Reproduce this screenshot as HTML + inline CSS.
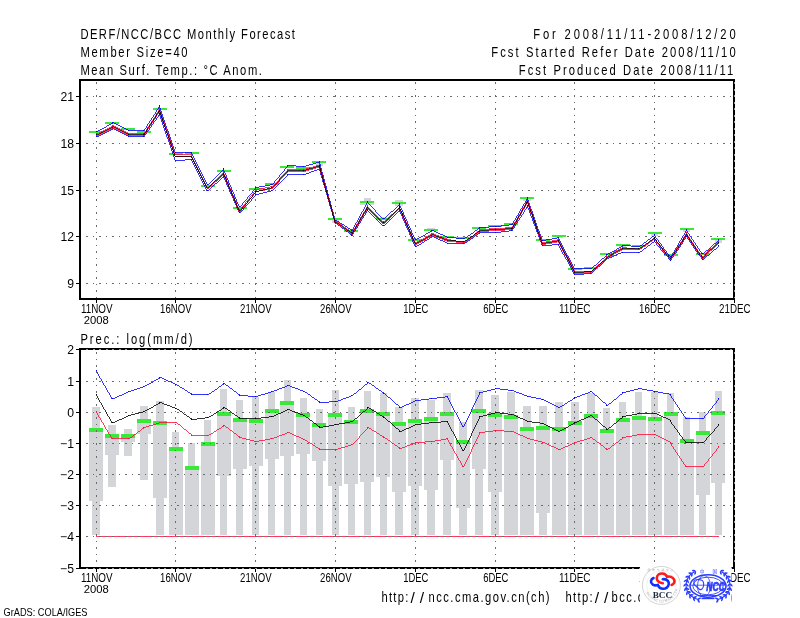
<!DOCTYPE html>
<html><head><meta charset="utf-8"><title>DERF/NCC/BCC Monthly Forecast</title>
<style>html,body{margin:0;padding:0;background:#fff;}body{width:800px;height:618px;overflow:hidden;}svg{display:block;}</style>
</head><body>
<svg width="800" height="618" viewBox="0 0 800 618">
<rect x="0" y="0" width="800" height="618" fill="#ffffff"/>
<g font-family="'Liberation Sans', 'DejaVu Sans', sans-serif" fill="#000">
<text transform="translate(80.40,38.60) scale(0.8,1)" x="0" y="0" font-size="14" text-anchor="start" textLength="268.1" lengthAdjust="spacing">DERF/NCC/BCC Monthly Forecast</text>
<text transform="translate(80.40,56.60) scale(0.8,1)" x="0" y="0" font-size="14" text-anchor="start" textLength="134.0" lengthAdjust="spacing">Member Size=40</text>
<text transform="translate(80.40,74.60) scale(0.8,1)" x="0" y="0" font-size="14" text-anchor="start" textLength="226.9" lengthAdjust="spacing">Mean Surf. Temp.: &#176;C Anom.</text>
<text transform="translate(533.30,38.60) scale(0.8,1)" x="0" y="0" font-size="14" text-anchor="start" textLength="252.9" lengthAdjust="spacing">For 2008/11/11-2008/12/20</text>
<text transform="translate(491.30,56.80) scale(0.8,1)" x="0" y="0" font-size="14" text-anchor="start" textLength="305.4" lengthAdjust="spacing">Fcst Started Refer Date 2008/11/10</text>
<text transform="translate(518.80,74.80) scale(0.8,1)" x="0" y="0" font-size="14" text-anchor="start" textLength="268.1" lengthAdjust="spacing">Fcst Produced Date 2008/11/11</text>
</g>
<g shape-rendering="crispEdges">
<line x1="86" y1="96.5" x2="733" y2="96.5" stroke="#6a6a6a" stroke-width="1" stroke-dasharray="2 4.5 1 5.5"/>
<line x1="86" y1="143.5" x2="733" y2="143.5" stroke="#6a6a6a" stroke-width="1" stroke-dasharray="2 4.5 1 5.5"/>
<line x1="86" y1="190.5" x2="733" y2="190.5" stroke="#6a6a6a" stroke-width="1" stroke-dasharray="2 4.5 1 5.5"/>
<line x1="86" y1="236.5" x2="733" y2="236.5" stroke="#6a6a6a" stroke-width="1" stroke-dasharray="2 4.5 1 5.5"/>
<line x1="86" y1="283.5" x2="733" y2="283.5" stroke="#6a6a6a" stroke-width="1" stroke-dasharray="2 4.5 1 5.5"/>
<line x1="96.5" y1="82" x2="96.5" y2="298" stroke="#6a6a6a" stroke-width="1" stroke-dasharray="2 4.5 1 5.5"/>
<line x1="175.5" y1="82" x2="175.5" y2="298" stroke="#6a6a6a" stroke-width="1" stroke-dasharray="2 4.5 1 5.5"/>
<line x1="255.5" y1="82" x2="255.5" y2="298" stroke="#6a6a6a" stroke-width="1" stroke-dasharray="2 4.5 1 5.5"/>
<line x1="335.5" y1="82" x2="335.5" y2="298" stroke="#6a6a6a" stroke-width="1" stroke-dasharray="2 4.5 1 5.5"/>
<line x1="415.5" y1="82" x2="415.5" y2="298" stroke="#6a6a6a" stroke-width="1" stroke-dasharray="2 4.5 1 5.5"/>
<line x1="495.5" y1="82" x2="495.5" y2="298" stroke="#6a6a6a" stroke-width="1" stroke-dasharray="2 4.5 1 5.5"/>
<line x1="574.5" y1="82" x2="574.5" y2="298" stroke="#6a6a6a" stroke-width="1" stroke-dasharray="2 4.5 1 5.5"/>
<line x1="654.5" y1="82" x2="654.5" y2="298" stroke="#6a6a6a" stroke-width="1" stroke-dasharray="2 4.5 1 5.5"/>
<rect x="316.00" y="162.00" width="7.00" height="4.00" fill="#d4d5d9"/>
<rect x="332.00" y="219.00" width="7.00" height="4.00" fill="#d4d5d9"/>
<rect x="364.00" y="198.00" width="7.00" height="4.00" fill="#d4d5d9"/>
<rect x="380.00" y="217.00" width="7.00" height="3.00" fill="#d4d5d9"/>
<rect x="395.00" y="200.00" width="8.00" height="6.00" fill="#d4d5d9"/>
<rect x="427.00" y="228.00" width="8.00" height="3.00" fill="#d4d5d9"/>
<rect x="523.00" y="197.00" width="8.00" height="4.00" fill="#d4d5d9"/>
<rect x="555.00" y="235.00" width="8.00" height="3.00" fill="#d4d5d9"/>
<rect x="715.00" y="240.00" width="7.00" height="3.00" fill="#d4d5d9"/>
<rect x="651.00" y="232.00" width="7.00" height="4.00" fill="#d4d5d9"/>
<rect x="683.00" y="229.00" width="7.00" height="3.00" fill="#d4d5d9"/>
<rect x="475.00" y="227.00" width="8.00" height="2.00" fill="#d4d5d9"/>
<rect x="619.00" y="244.00" width="7.00" height="3.00" fill="#d4d5d9"/>
<rect x="360.00" y="203.00" width="14.00" height="2.00" fill="#d4d5d9"/>
<rect x="89.00" y="131.00" width="14.00" height="2.00" fill="#3ae83a"/>
<rect x="105.00" y="122.00" width="14.00" height="2.00" fill="#3ae83a"/>
<rect x="121.00" y="128.00" width="14.00" height="2.00" fill="#3ae83a"/>
<rect x="137.00" y="131.00" width="14.00" height="2.00" fill="#3ae83a"/>
<rect x="153.00" y="108.00" width="14.00" height="2.00" fill="#3ae83a"/>
<rect x="169.00" y="153.00" width="14.00" height="2.00" fill="#3ae83a"/>
<rect x="185.00" y="152.00" width="14.00" height="2.00" fill="#3ae83a"/>
<rect x="201.00" y="185.00" width="14.00" height="2.00" fill="#3ae83a"/>
<rect x="217.00" y="170.00" width="14.00" height="2.00" fill="#3ae83a"/>
<rect x="233.00" y="207.00" width="14.00" height="2.00" fill="#3ae83a"/>
<rect x="249.00" y="188.00" width="14.00" height="2.00" fill="#3ae83a"/>
<rect x="265.00" y="183.00" width="14.00" height="2.00" fill="#3ae83a"/>
<rect x="280.00" y="166.00" width="14.00" height="2.00" fill="#3ae83a"/>
<rect x="296.00" y="167.00" width="14.00" height="2.00" fill="#3ae83a"/>
<rect x="312.00" y="161.00" width="14.00" height="2.00" fill="#3ae83a"/>
<rect x="328.00" y="218.00" width="14.00" height="2.00" fill="#3ae83a"/>
<rect x="344.00" y="230.00" width="14.00" height="2.00" fill="#3ae83a"/>
<rect x="360.00" y="201.00" width="14.00" height="2.00" fill="#3ae83a"/>
<rect x="376.00" y="218.00" width="14.00" height="2.00" fill="#3ae83a"/>
<rect x="392.00" y="202.00" width="14.00" height="2.00" fill="#3ae83a"/>
<rect x="408.00" y="239.00" width="14.00" height="2.00" fill="#3ae83a"/>
<rect x="424.00" y="229.00" width="14.00" height="2.00" fill="#3ae83a"/>
<rect x="440.00" y="236.00" width="14.00" height="2.00" fill="#3ae83a"/>
<rect x="456.00" y="237.00" width="14.00" height="2.00" fill="#3ae83a"/>
<rect x="472.00" y="227.00" width="14.00" height="2.00" fill="#3ae83a"/>
<rect x="488.00" y="225.00" width="14.00" height="2.00" fill="#3ae83a"/>
<rect x="504.00" y="223.00" width="14.00" height="2.00" fill="#3ae83a"/>
<rect x="520.00" y="197.00" width="14.00" height="2.00" fill="#3ae83a"/>
<rect x="536.00" y="239.00" width="14.00" height="2.00" fill="#3ae83a"/>
<rect x="552.00" y="235.00" width="14.00" height="2.00" fill="#3ae83a"/>
<rect x="568.00" y="268.00" width="14.00" height="2.00" fill="#3ae83a"/>
<rect x="584.00" y="267.00" width="14.00" height="2.00" fill="#3ae83a"/>
<rect x="600.00" y="253.00" width="14.00" height="2.00" fill="#3ae83a"/>
<rect x="616.00" y="244.00" width="14.00" height="2.00" fill="#3ae83a"/>
<rect x="632.00" y="245.00" width="14.00" height="2.00" fill="#3ae83a"/>
<rect x="648.00" y="232.00" width="14.00" height="2.00" fill="#3ae83a"/>
<rect x="664.00" y="254.00" width="14.00" height="2.00" fill="#3ae83a"/>
<rect x="680.00" y="228.00" width="14.00" height="2.00" fill="#3ae83a"/>
<rect x="696.00" y="253.00" width="14.00" height="2.00" fill="#3ae83a"/>
<rect x="711.00" y="238.00" width="14.00" height="2.00" fill="#3ae83a"/>
<path d="M96,131h1v1h-1zM112,122h1v1h-1zM128,130h1v1h-1zM143,130h1v1h-1zM159,105h1v1h-1zM175,152h1v1h-1zM191,152h1v1h-1zM207,184h1v1h-1zM223,168h1v1h-1zM239,206h1v1h-1zM255,187h1v1h-1zM271,184h1v1h-1zM287,165h1v1h-1zM303,166h1v1h-1zM319,161h1v1h-1zM335,220h1v1h-1zM351,230h1v1h-1zM367,201h1v1h-1zM383,218h1v1h-1zM399,203h1v1h-1zM415,239h1v1h-1zM431,230h1v1h-1zM447,237h1v1h-1zM463,238h1v1h-1zM479,227h1v1h-1zM495,226h1v1h-1zM511,224h1v1h-1zM527,197h1v1h-1zM542,240h1v1h-1zM558,237h1v1h-1zM574,268h1v1h-1zM590,268h1v1h-1zM606,254h1v1h-1zM622,245h1v1h-1zM638,246h1v1h-1zM654,234h1v1h-1zM670,256h1v1h-1zM686,229h1v1h-1zM702,253h1v1h-1zM718,239h1v1h-1z" fill="#0000ff"/>
<path d="M96,136h1v1h-1zM112,128h1v1h-1zM128,136h1v1h-1zM143,136h1v1h-1zM159,113h1v1h-1zM175,160h1v1h-1zM191,159h1v1h-1zM207,190h1v1h-1zM223,175h1v1h-1zM239,212h1v1h-1zM255,194h1v1h-1zM271,190h1v1h-1zM287,174h1v1h-1zM303,174h1v1h-1zM319,168h1v1h-1zM335,223h1v1h-1zM351,235h1v1h-1zM367,209h1v1h-1zM383,225h1v1h-1zM399,209h1v1h-1zM415,246h1v1h-1zM431,236h1v1h-1zM447,243h1v1h-1zM463,243h1v1h-1zM479,232h1v1h-1zM495,232h1v1h-1zM511,230h1v1h-1zM527,205h1v1h-1zM542,245h1v1h-1zM558,244h1v1h-1zM574,274h1v1h-1zM590,273h1v1h-1zM606,258h1v1h-1zM622,252h1v1h-1zM638,252h1v1h-1zM654,240h1v1h-1zM670,260h1v1h-1zM686,235h1v1h-1zM702,259h1v1h-1zM718,245h1v1h-1z" fill="#0000ff"/>
<path d="M96,133h1v1h-1zM112,125h1v1h-1zM128,133h1v1h-1zM143,133h1v1h-1zM159,108h1v1h-1zM175,154h1v1h-1zM191,154h1v1h-1zM207,187h1v1h-1zM223,171h1v1h-1zM239,209h1v1h-1zM255,189h1v1h-1zM271,186h1v1h-1zM287,169h1v1h-1zM303,169h1v1h-1zM319,164h1v1h-1zM335,221h1v1h-1zM351,232h1v1h-1zM367,205h1v1h-1zM383,221h1v1h-1zM399,206h1v1h-1zM415,242h1v1h-1zM431,233h1v1h-1zM447,239h1v1h-1zM463,242h1v1h-1zM479,229h1v1h-1zM495,228h1v1h-1zM511,227h1v1h-1zM527,199h1v1h-1zM542,242h1v1h-1zM558,239h1v1h-1zM574,271h1v1h-1zM590,271h1v1h-1zM606,256h1v1h-1zM622,247h1v1h-1zM638,249h1v1h-1zM654,237h1v1h-1zM670,257h1v1h-1zM686,232h1v1h-1zM702,256h1v1h-1zM718,241h1v1h-1z" fill="#ff0a3a"/>
<path d="M96,135h1v1h-1zM112,127h1v1h-1zM128,135h1v1h-1zM143,135h1v1h-1zM159,110h1v1h-1zM175,156h1v1h-1zM191,156h1v1h-1zM207,188h1v1h-1zM223,173h1v1h-1zM239,211h1v1h-1zM255,191h1v1h-1zM271,188h1v1h-1zM287,171h1v1h-1zM303,171h1v1h-1zM319,166h1v1h-1zM335,223h1v1h-1zM351,234h1v1h-1zM367,207h1v1h-1zM383,223h1v1h-1zM399,207h1v1h-1zM415,244h1v1h-1zM431,235h1v1h-1zM447,241h1v1h-1zM463,242h1v1h-1zM479,231h1v1h-1zM495,230h1v1h-1zM511,229h1v1h-1zM527,201h1v1h-1zM542,244h1v1h-1zM558,241h1v1h-1zM574,273h1v1h-1zM590,272h1v1h-1zM606,258h1v1h-1zM622,249h1v1h-1zM638,249h1v1h-1zM654,238h1v1h-1zM670,259h1v1h-1zM686,234h1v1h-1zM702,258h1v1h-1zM718,243h1v1h-1z" fill="#ff0a3a"/>
<path d="M96,134h1v1h-1zM112,126h1v1h-1zM128,134h1v1h-1zM143,134h1v1h-1zM159,109h1v1h-1zM175,156h1v1h-1zM191,156h1v1h-1zM207,187h1v1h-1zM223,172h1v1h-1zM239,210h1v1h-1zM255,191h1v1h-1zM271,187h1v1h-1zM287,170h1v1h-1zM303,170h1v1h-1zM319,165h1v1h-1zM335,222h1v1h-1zM351,233h1v1h-1zM367,206h1v1h-1zM383,222h1v1h-1zM399,206h1v1h-1zM415,243h1v1h-1zM431,234h1v1h-1zM447,240h1v1h-1zM463,241h1v1h-1zM479,230h1v1h-1zM495,229h1v1h-1zM511,228h1v1h-1zM527,200h1v1h-1zM542,243h1v1h-1zM558,240h1v1h-1zM574,272h1v1h-1zM590,271h1v1h-1zM606,257h1v1h-1zM622,248h1v1h-1zM638,248h1v1h-1zM654,237h1v1h-1zM670,258h1v1h-1zM686,233h1v1h-1zM702,257h1v1h-1zM718,242h1v1h-1z" fill="#000"/>
<polyline points="96.50,131.5 112.50,122.5 128.50,130.5 143.50,130.5 159.50,105.5 175.50,152.5 191.50,152.5 207.50,184.5 223.50,168.5 239.50,206.5 255.50,187.5 271.50,184.5 287.50,165.5 303.50,166.5 319.50,161.5 335.50,220.5 351.50,230.5 367.50,201.5 383.50,218.5 399.50,203.5 415.50,239.5 431.50,230.5 447.50,237.5 463.50,238.5 479.50,227.5 495.50,226.5 511.50,224.5 527.50,197.5 542.50,240.5 558.50,237.5 574.50,268.5 590.50,268.5 606.50,254.5 622.50,245.5 638.50,246.5 654.50,234.5 670.50,256.5 686.50,229.5 702.50,253.5 718.50,239.5" fill="none" stroke="#0000ff" stroke-width="0.8"/>
<polyline points="96.50,136.5 112.50,128.5 128.50,136.5 143.50,136.5 159.50,113.5 175.50,160.5 191.50,159.5 207.50,190.5 223.50,175.5 239.50,212.5 255.50,194.5 271.50,190.5 287.50,174.5 303.50,174.5 319.50,168.5 335.50,223.5 351.50,235.5 367.50,209.5 383.50,225.5 399.50,209.5 415.50,246.5 431.50,236.5 447.50,243.5 463.50,243.5 479.50,232.5 495.50,232.5 511.50,230.5 527.50,205.5 542.50,245.5 558.50,244.5 574.50,274.5 590.50,273.5 606.50,258.5 622.50,252.5 638.50,252.5 654.50,240.5 670.50,260.5 686.50,235.5 702.50,259.5 718.50,245.5" fill="none" stroke="#0000ff" stroke-width="0.8"/>
<polyline points="96.50,133.5 112.50,125.5 128.50,133.5 143.50,133.5 159.50,108.5 175.50,154.5 191.50,154.5 207.50,187.5 223.50,171.5 239.50,209.5 255.50,189.5 271.50,186.5 287.50,169.5 303.50,169.5 319.50,164.5 335.50,221.5 351.50,232.5 367.50,205.5 383.50,221.5 399.50,206.5 415.50,242.5 431.50,233.5 447.50,239.5 463.50,242.5 479.50,229.5 495.50,228.5 511.50,227.5 527.50,199.5 542.50,242.5 558.50,239.5 574.50,271.5 590.50,271.5 606.50,256.5 622.50,247.5 638.50,249.5 654.50,237.5 670.50,257.5 686.50,232.5 702.50,256.5 718.50,241.5" fill="none" stroke="#ff0a3a" stroke-width="0.8"/>
<polyline points="96.50,135.5 112.50,127.5 128.50,135.5 143.50,135.5 159.50,110.5 175.50,156.5 191.50,156.5 207.50,188.5 223.50,173.5 239.50,211.5 255.50,191.5 271.50,188.5 287.50,171.5 303.50,171.5 319.50,166.5 335.50,223.5 351.50,234.5 367.50,207.5 383.50,223.5 399.50,207.5 415.50,244.5 431.50,235.5 447.50,241.5 463.50,242.5 479.50,231.5 495.50,230.5 511.50,229.5 527.50,201.5 542.50,244.5 558.50,241.5 574.50,273.5 590.50,272.5 606.50,258.5 622.50,249.5 638.50,249.5 654.50,238.5 670.50,259.5 686.50,234.5 702.50,258.5 718.50,243.5" fill="none" stroke="#ff0a3a" stroke-width="0.8"/>
<polyline points="96.50,134.5 112.50,126.5 128.50,134.5 143.50,134.5 159.50,109.5 175.50,156.5 191.50,156.5 207.50,187.5 223.50,172.5 239.50,210.5 255.50,191.5 271.50,187.5 287.50,170.5 303.50,170.5 319.50,165.5 335.50,222.5 351.50,233.5 367.50,206.5 383.50,222.5 399.50,206.5 415.50,243.5 431.50,234.5 447.50,240.5 463.50,241.5 479.50,230.5 495.50,229.5 511.50,228.5 527.50,200.5 542.50,243.5 558.50,240.5 574.50,272.5 590.50,271.5 606.50,257.5 622.50,248.5 638.50,248.5 654.50,237.5 670.50,258.5 686.50,233.5 702.50,257.5 718.50,242.5" fill="none" stroke="#000" stroke-width="0.8"/>
<rect x="79.00" y="79.00" width="656.00" height="2.00" fill="#000"/>
<rect x="79.00" y="79.00" width="2.00" height="221.00" fill="#000"/>
<rect x="733.00" y="79.00" width="2.00" height="221.00" fill="#000"/>
<rect x="79.00" y="298.00" width="656.00" height="2.00" fill="#000"/>
<line x1="734.5" y1="82" x2="734.5" y2="298" stroke="#9a9a9a" stroke-width="1" stroke-dasharray="2 4.5"/>
<rect x="76.00" y="96.00" width="3.00" height="1.00" fill="#000"/>
<rect x="76.00" y="143.00" width="3.00" height="1.00" fill="#000"/>
<rect x="76.00" y="190.00" width="3.00" height="1.00" fill="#000"/>
<rect x="76.00" y="236.00" width="3.00" height="1.00" fill="#000"/>
<rect x="76.00" y="283.00" width="3.00" height="1.00" fill="#000"/>
<rect x="96.00" y="300.00" width="1.00" height="3.00" fill="#000"/>
<rect x="175.00" y="300.00" width="1.00" height="3.00" fill="#000"/>
<rect x="255.00" y="300.00" width="1.00" height="3.00" fill="#000"/>
<rect x="335.00" y="300.00" width="1.00" height="3.00" fill="#000"/>
<rect x="415.00" y="300.00" width="1.00" height="3.00" fill="#000"/>
<rect x="495.00" y="300.00" width="1.00" height="3.00" fill="#000"/>
<rect x="574.00" y="300.00" width="1.00" height="3.00" fill="#000"/>
<rect x="654.00" y="300.00" width="1.00" height="3.00" fill="#000"/>
<rect x="734.00" y="300.00" width="1.00" height="3.00" fill="#000"/>
</g>
<g font-family="'Liberation Sans', 'DejaVu Sans', sans-serif" fill="#000">
<text x="74.00" y="101.00" font-size="12.2" text-anchor="end">21</text>
<text x="74.00" y="148.00" font-size="12.2" text-anchor="end">18</text>
<text x="74.00" y="195.00" font-size="12.2" text-anchor="end">15</text>
<text x="74.00" y="241.00" font-size="12.2" text-anchor="end">12</text>
<text x="74.00" y="288.00" font-size="12.2" text-anchor="end">9</text>
<text x="96.80" y="312.90" font-size="12.2" text-anchor="middle" textLength="31.5" lengthAdjust="spacingAndGlyphs">11NOV</text>
<text x="175.80" y="312.90" font-size="12.2" text-anchor="middle" textLength="31.5" lengthAdjust="spacingAndGlyphs">16NOV</text>
<text x="255.80" y="312.90" font-size="12.2" text-anchor="middle" textLength="31.5" lengthAdjust="spacingAndGlyphs">21NOV</text>
<text x="335.80" y="312.90" font-size="12.2" text-anchor="middle" textLength="31.5" lengthAdjust="spacingAndGlyphs">26NOV</text>
<text x="415.80" y="312.90" font-size="12.2" text-anchor="middle" textLength="25.2" lengthAdjust="spacingAndGlyphs">1DEC</text>
<text x="495.80" y="312.90" font-size="12.2" text-anchor="middle" textLength="25.2" lengthAdjust="spacingAndGlyphs">6DEC</text>
<text x="574.80" y="312.90" font-size="12.2" text-anchor="middle" textLength="31.5" lengthAdjust="spacingAndGlyphs">11DEC</text>
<text x="654.80" y="312.90" font-size="12.2" text-anchor="middle" textLength="31.5" lengthAdjust="spacingAndGlyphs">16DEC</text>
<text x="734.80" y="312.90" font-size="12.2" text-anchor="middle" textLength="31.5" lengthAdjust="spacingAndGlyphs">21DEC</text>
<text x="96.30" y="324.20" font-size="11.8" text-anchor="middle" textLength="25.0" lengthAdjust="spacingAndGlyphs">2008</text>
</g>
<g shape-rendering="crispEdges">
<rect x="92.00" y="407.00" width="8.00" height="128.00" fill="#d4d5d9"/>
<rect x="89.00" y="428.00" width="14.00" height="73.00" fill="#d4d5d9"/>
<rect x="108.00" y="425.00" width="8.00" height="62.00" fill="#d4d5d9"/>
<rect x="105.00" y="434.00" width="14.00" height="21.00" fill="#d4d5d9"/>
<rect x="124.00" y="429.00" width="8.00" height="27.00" fill="#d4d5d9"/>
<rect x="121.00" y="434.00" width="14.00" height="8.00" fill="#d4d5d9"/>
<rect x="140.00" y="406.00" width="8.00" height="74.00" fill="#d4d5d9"/>
<rect x="137.00" y="419.00" width="14.00" height="15.00" fill="#d4d5d9"/>
<rect x="156.00" y="401.00" width="8.00" height="134.00" fill="#d4d5d9"/>
<rect x="153.00" y="421.00" width="14.00" height="77.00" fill="#d4d5d9"/>
<rect x="172.00" y="432.00" width="7.00" height="103.00" fill="#d4d5d9"/>
<rect x="169.00" y="447.00" width="14.00" height="88.00" fill="#d4d5d9"/>
<rect x="188.00" y="443.00" width="7.00" height="92.00" fill="#d4d5d9"/>
<rect x="185.00" y="466.00" width="14.00" height="69.00" fill="#d4d5d9"/>
<rect x="204.00" y="420.00" width="7.00" height="115.00" fill="#d4d5d9"/>
<rect x="201.00" y="442.00" width="14.00" height="93.00" fill="#d4d5d9"/>
<rect x="220.00" y="389.00" width="7.00" height="146.00" fill="#d4d5d9"/>
<rect x="217.00" y="412.00" width="14.00" height="64.00" fill="#d4d5d9"/>
<rect x="236.00" y="400.00" width="7.00" height="135.00" fill="#d4d5d9"/>
<rect x="233.00" y="418.00" width="14.00" height="51.00" fill="#d4d5d9"/>
<rect x="252.00" y="397.00" width="7.00" height="138.00" fill="#d4d5d9"/>
<rect x="249.00" y="419.00" width="14.00" height="47.00" fill="#d4d5d9"/>
<rect x="268.00" y="392.00" width="7.00" height="143.00" fill="#d4d5d9"/>
<rect x="265.00" y="409.00" width="14.00" height="50.00" fill="#d4d5d9"/>
<rect x="284.00" y="380.00" width="7.00" height="155.00" fill="#d4d5d9"/>
<rect x="280.00" y="401.00" width="14.00" height="55.00" fill="#d4d5d9"/>
<rect x="300.00" y="398.00" width="7.00" height="137.00" fill="#d4d5d9"/>
<rect x="296.00" y="413.00" width="14.00" height="41.00" fill="#d4d5d9"/>
<rect x="316.00" y="409.00" width="7.00" height="126.00" fill="#d4d5d9"/>
<rect x="312.00" y="423.00" width="14.00" height="38.00" fill="#d4d5d9"/>
<rect x="332.00" y="390.00" width="7.00" height="145.00" fill="#d4d5d9"/>
<rect x="328.00" y="413.00" width="14.00" height="73.00" fill="#d4d5d9"/>
<rect x="348.00" y="407.00" width="7.00" height="128.00" fill="#d4d5d9"/>
<rect x="344.00" y="420.00" width="14.00" height="64.00" fill="#d4d5d9"/>
<rect x="364.00" y="391.00" width="7.00" height="144.00" fill="#d4d5d9"/>
<rect x="360.00" y="409.00" width="14.00" height="73.00" fill="#d4d5d9"/>
<rect x="380.00" y="393.00" width="7.00" height="142.00" fill="#d4d5d9"/>
<rect x="376.00" y="412.00" width="14.00" height="65.00" fill="#d4d5d9"/>
<rect x="395.00" y="407.00" width="8.00" height="128.00" fill="#d4d5d9"/>
<rect x="392.00" y="422.00" width="14.00" height="70.00" fill="#d4d5d9"/>
<rect x="411.00" y="398.00" width="8.00" height="137.00" fill="#d4d5d9"/>
<rect x="408.00" y="419.00" width="14.00" height="67.00" fill="#d4d5d9"/>
<rect x="427.00" y="400.00" width="8.00" height="135.00" fill="#d4d5d9"/>
<rect x="424.00" y="417.00" width="14.00" height="73.00" fill="#d4d5d9"/>
<rect x="443.00" y="393.00" width="8.00" height="142.00" fill="#d4d5d9"/>
<rect x="440.00" y="412.00" width="14.00" height="48.00" fill="#d4d5d9"/>
<rect x="459.00" y="422.00" width="8.00" height="113.00" fill="#d4d5d9"/>
<rect x="456.00" y="440.00" width="14.00" height="68.00" fill="#d4d5d9"/>
<rect x="475.00" y="390.00" width="8.00" height="145.00" fill="#d4d5d9"/>
<rect x="472.00" y="409.00" width="14.00" height="60.00" fill="#d4d5d9"/>
<rect x="491.00" y="395.00" width="8.00" height="140.00" fill="#d4d5d9"/>
<rect x="488.00" y="413.00" width="14.00" height="79.00" fill="#d4d5d9"/>
<rect x="507.00" y="392.00" width="8.00" height="143.00" fill="#d4d5d9"/>
<rect x="504.00" y="415.00" width="14.00" height="120.00" fill="#d4d5d9"/>
<rect x="523.00" y="406.00" width="8.00" height="129.00" fill="#d4d5d9"/>
<rect x="520.00" y="427.00" width="14.00" height="108.00" fill="#d4d5d9"/>
<rect x="539.00" y="406.00" width="8.00" height="129.00" fill="#d4d5d9"/>
<rect x="536.00" y="426.00" width="14.00" height="87.00" fill="#d4d5d9"/>
<rect x="555.00" y="402.00" width="8.00" height="133.00" fill="#d4d5d9"/>
<rect x="552.00" y="427.00" width="14.00" height="108.00" fill="#d4d5d9"/>
<rect x="571.00" y="402.00" width="8.00" height="133.00" fill="#d4d5d9"/>
<rect x="568.00" y="421.00" width="14.00" height="114.00" fill="#d4d5d9"/>
<rect x="587.00" y="393.00" width="8.00" height="142.00" fill="#d4d5d9"/>
<rect x="584.00" y="414.00" width="14.00" height="121.00" fill="#d4d5d9"/>
<rect x="603.00" y="408.00" width="7.00" height="127.00" fill="#d4d5d9"/>
<rect x="600.00" y="429.00" width="14.00" height="106.00" fill="#d4d5d9"/>
<rect x="619.00" y="402.00" width="7.00" height="133.00" fill="#d4d5d9"/>
<rect x="616.00" y="418.00" width="14.00" height="117.00" fill="#d4d5d9"/>
<rect x="635.00" y="392.00" width="7.00" height="143.00" fill="#d4d5d9"/>
<rect x="632.00" y="416.00" width="14.00" height="119.00" fill="#d4d5d9"/>
<rect x="651.00" y="392.00" width="7.00" height="143.00" fill="#d4d5d9"/>
<rect x="648.00" y="417.00" width="14.00" height="118.00" fill="#d4d5d9"/>
<rect x="667.00" y="393.00" width="7.00" height="142.00" fill="#d4d5d9"/>
<rect x="664.00" y="412.00" width="14.00" height="123.00" fill="#d4d5d9"/>
<rect x="683.00" y="417.00" width="7.00" height="118.00" fill="#d4d5d9"/>
<rect x="680.00" y="439.00" width="14.00" height="96.00" fill="#d4d5d9"/>
<rect x="699.00" y="412.00" width="7.00" height="123.00" fill="#d4d5d9"/>
<rect x="696.00" y="431.00" width="14.00" height="64.00" fill="#d4d5d9"/>
<rect x="715.00" y="391.00" width="7.00" height="144.00" fill="#d4d5d9"/>
<rect x="711.00" y="411.00" width="14.00" height="72.00" fill="#d4d5d9"/>
<rect x="89.00" y="428.00" width="14.00" height="4.00" fill="#3ae83a"/>
<rect x="105.00" y="434.00" width="14.00" height="4.00" fill="#3ae83a"/>
<rect x="121.00" y="434.00" width="14.00" height="4.00" fill="#3ae83a"/>
<rect x="137.00" y="419.00" width="14.00" height="4.00" fill="#3ae83a"/>
<rect x="153.00" y="421.00" width="14.00" height="4.00" fill="#3ae83a"/>
<rect x="169.00" y="447.00" width="14.00" height="4.00" fill="#3ae83a"/>
<rect x="185.00" y="466.00" width="14.00" height="4.00" fill="#3ae83a"/>
<rect x="201.00" y="442.00" width="14.00" height="4.00" fill="#3ae83a"/>
<rect x="217.00" y="412.00" width="14.00" height="4.00" fill="#3ae83a"/>
<rect x="233.00" y="418.00" width="14.00" height="4.00" fill="#3ae83a"/>
<rect x="249.00" y="419.00" width="14.00" height="4.00" fill="#3ae83a"/>
<rect x="265.00" y="409.00" width="14.00" height="4.00" fill="#3ae83a"/>
<rect x="280.00" y="401.00" width="14.00" height="4.00" fill="#3ae83a"/>
<rect x="296.00" y="413.00" width="14.00" height="4.00" fill="#3ae83a"/>
<rect x="312.00" y="423.00" width="14.00" height="4.00" fill="#3ae83a"/>
<rect x="328.00" y="413.00" width="14.00" height="4.00" fill="#3ae83a"/>
<rect x="344.00" y="420.00" width="14.00" height="4.00" fill="#3ae83a"/>
<rect x="360.00" y="409.00" width="14.00" height="4.00" fill="#3ae83a"/>
<rect x="376.00" y="412.00" width="14.00" height="4.00" fill="#3ae83a"/>
<rect x="392.00" y="422.00" width="14.00" height="4.00" fill="#3ae83a"/>
<rect x="408.00" y="419.00" width="14.00" height="4.00" fill="#3ae83a"/>
<rect x="424.00" y="417.00" width="14.00" height="4.00" fill="#3ae83a"/>
<rect x="440.00" y="412.00" width="14.00" height="4.00" fill="#3ae83a"/>
<rect x="456.00" y="440.00" width="14.00" height="4.00" fill="#3ae83a"/>
<rect x="472.00" y="409.00" width="14.00" height="4.00" fill="#3ae83a"/>
<rect x="488.00" y="413.00" width="14.00" height="4.00" fill="#3ae83a"/>
<rect x="504.00" y="415.00" width="14.00" height="4.00" fill="#3ae83a"/>
<rect x="520.00" y="427.00" width="14.00" height="4.00" fill="#3ae83a"/>
<rect x="536.00" y="426.00" width="14.00" height="4.00" fill="#3ae83a"/>
<rect x="552.00" y="427.00" width="14.00" height="4.00" fill="#3ae83a"/>
<rect x="568.00" y="421.00" width="14.00" height="4.00" fill="#3ae83a"/>
<rect x="584.00" y="414.00" width="14.00" height="4.00" fill="#3ae83a"/>
<rect x="600.00" y="429.00" width="14.00" height="4.00" fill="#3ae83a"/>
<rect x="616.00" y="418.00" width="14.00" height="4.00" fill="#3ae83a"/>
<rect x="632.00" y="416.00" width="14.00" height="4.00" fill="#3ae83a"/>
<rect x="648.00" y="417.00" width="14.00" height="4.00" fill="#3ae83a"/>
<rect x="664.00" y="412.00" width="14.00" height="4.00" fill="#3ae83a"/>
<rect x="680.00" y="439.00" width="14.00" height="4.00" fill="#3ae83a"/>
<rect x="696.00" y="431.00" width="14.00" height="4.00" fill="#3ae83a"/>
<rect x="711.00" y="411.00" width="14.00" height="4.00" fill="#3ae83a"/>
<line x1="96" y1="536.5" x2="719" y2="536.5" stroke="#ff0a3a" stroke-width="0.8"/>
<line x1="86" y1="381.5" x2="733" y2="381.5" stroke="#6a6a6a" stroke-width="1" stroke-dasharray="2 4.5 1 5.5"/>
<line x1="86" y1="412.5" x2="733" y2="412.5" stroke="#6a6a6a" stroke-width="1" stroke-dasharray="2 4.5 1 5.5"/>
<line x1="86" y1="443.5" x2="733" y2="443.5" stroke="#6a6a6a" stroke-width="1" stroke-dasharray="2 4.5 1 5.5"/>
<line x1="86" y1="474.5" x2="733" y2="474.5" stroke="#6a6a6a" stroke-width="1" stroke-dasharray="2 4.5 1 5.5"/>
<line x1="86" y1="505.5" x2="733" y2="505.5" stroke="#6a6a6a" stroke-width="1" stroke-dasharray="2 4.5 1 5.5"/>
<line x1="86" y1="536.5" x2="733" y2="536.5" stroke="#6a6a6a" stroke-width="1" stroke-dasharray="2 4.5 1 5.5"/>
<line x1="96.5" y1="352" x2="96.5" y2="567" stroke="#6a6a6a" stroke-width="1" stroke-dasharray="2 4.5 1 5.5"/>
<line x1="175.5" y1="352" x2="175.5" y2="567" stroke="#6a6a6a" stroke-width="1" stroke-dasharray="2 4.5 1 5.5"/>
<line x1="255.5" y1="352" x2="255.5" y2="567" stroke="#6a6a6a" stroke-width="1" stroke-dasharray="2 4.5 1 5.5"/>
<line x1="335.5" y1="352" x2="335.5" y2="567" stroke="#6a6a6a" stroke-width="1" stroke-dasharray="2 4.5 1 5.5"/>
<line x1="415.5" y1="352" x2="415.5" y2="567" stroke="#6a6a6a" stroke-width="1" stroke-dasharray="2 4.5 1 5.5"/>
<line x1="495.5" y1="352" x2="495.5" y2="567" stroke="#6a6a6a" stroke-width="1" stroke-dasharray="2 4.5 1 5.5"/>
<line x1="574.5" y1="352" x2="574.5" y2="567" stroke="#6a6a6a" stroke-width="1" stroke-dasharray="2 4.5 1 5.5"/>
<line x1="654.5" y1="352" x2="654.5" y2="567" stroke="#6a6a6a" stroke-width="1" stroke-dasharray="2 4.5 1 5.5"/>
<path d="M96,370h1v1h-1zM112,398h1v1h-1zM128,391h1v1h-1zM143,386h1v1h-1zM159,377h1v1h-1zM175,384h1v1h-1zM191,394h1v1h-1zM207,394h1v1h-1zM223,383h1v1h-1zM239,395h1v1h-1zM255,396h1v1h-1zM271,391h1v1h-1zM287,385h1v1h-1zM303,391h1v1h-1zM319,402h1v1h-1zM335,401h1v1h-1zM351,395h1v1h-1zM367,382h1v1h-1zM383,393h1v1h-1zM399,407h1v1h-1zM415,400h1v1h-1zM431,398h1v1h-1zM447,396h1v1h-1zM463,426h1v1h-1zM479,392h1v1h-1zM495,388h1v1h-1zM511,390h1v1h-1zM527,396h1v1h-1zM542,399h1v1h-1zM558,407h1v1h-1zM574,397h1v1h-1zM590,391h1v1h-1zM606,405h1v1h-1zM622,392h1v1h-1zM638,388h1v1h-1zM654,391h1v1h-1zM670,394h1v1h-1zM686,418h1v1h-1zM702,418h1v1h-1zM718,398h1v1h-1z" fill="#0000ff"/>
<path d="M96,394h1v1h-1zM112,422h1v1h-1zM128,415h1v1h-1zM143,411h1v1h-1zM159,402h1v1h-1zM175,408h1v1h-1zM191,419h1v1h-1zM207,417h1v1h-1zM223,407h1v1h-1zM239,418h1v1h-1zM255,418h1v1h-1zM271,416h1v1h-1zM287,409h1v1h-1zM303,415h1v1h-1zM319,427h1v1h-1zM335,424h1v1h-1zM351,421h1v1h-1zM367,407h1v1h-1zM383,417h1v1h-1zM399,431h1v1h-1zM415,424h1v1h-1zM431,422h1v1h-1zM447,421h1v1h-1zM463,450h1v1h-1zM479,416h1v1h-1zM495,412h1v1h-1zM511,414h1v1h-1zM527,421h1v1h-1zM542,423h1v1h-1zM558,431h1v1h-1zM574,422h1v1h-1zM590,415h1v1h-1zM606,429h1v1h-1zM622,416h1v1h-1zM638,413h1v1h-1zM654,413h1v1h-1zM670,420h1v1h-1zM686,442h1v1h-1zM702,442h1v1h-1zM718,424h1v1h-1z" fill="#000"/>
<path d="M96,411h1v1h-1zM112,438h1v1h-1zM128,438h1v1h-1zM143,427h1v1h-1zM159,422h1v1h-1zM175,422h1v1h-1zM191,435h1v1h-1zM207,435h1v1h-1zM223,425h1v1h-1zM239,437h1v1h-1zM255,441h1v1h-1zM271,438h1v1h-1zM287,432h1v1h-1zM303,439h1v1h-1zM319,449h1v1h-1zM335,449h1v1h-1zM351,444h1v1h-1zM367,427h1v1h-1zM383,437h1v1h-1zM399,448h1v1h-1zM415,442h1v1h-1zM431,441h1v1h-1zM447,438h1v1h-1zM463,466h1v1h-1zM479,432h1v1h-1zM495,430h1v1h-1zM511,431h1v1h-1zM527,438h1v1h-1zM542,442h1v1h-1zM558,449h1v1h-1zM574,442h1v1h-1zM590,437h1v1h-1zM606,449h1v1h-1zM622,437h1v1h-1zM638,434h1v1h-1zM654,434h1v1h-1zM670,442h1v1h-1zM686,466h1v1h-1zM702,466h1v1h-1zM718,446h1v1h-1z" fill="#ff0a3a"/>
<polyline points="96.50,370.5 112.50,398.5 128.50,391.5 143.50,386.5 159.50,377.5 175.50,384.5 191.50,394.5 207.50,394.5 223.50,383.5 239.50,395.5 255.50,396.5 271.50,391.5 287.50,385.5 303.50,391.5 319.50,402.5 335.50,401.5 351.50,395.5 367.50,382.5 383.50,393.5 399.50,407.5 415.50,400.5 431.50,398.5 447.50,396.5 463.50,426.5 479.50,392.5 495.50,388.5 511.50,390.5 527.50,396.5 542.50,399.5 558.50,407.5 574.50,397.5 590.50,391.5 606.50,405.5 622.50,392.5 638.50,388.5 654.50,391.5 670.50,394.5 686.50,418.5 702.50,418.5 718.50,398.5" fill="none" stroke="#0000ff" stroke-width="0.8"/>
<polyline points="96.50,394.5 112.50,422.5 128.50,415.5 143.50,411.5 159.50,402.5 175.50,408.5 191.50,419.5 207.50,417.5 223.50,407.5 239.50,418.5 255.50,418.5 271.50,416.5 287.50,409.5 303.50,415.5 319.50,427.5 335.50,424.5 351.50,421.5 367.50,407.5 383.50,417.5 399.50,431.5 415.50,424.5 431.50,422.5 447.50,421.5 463.50,450.5 479.50,416.5 495.50,412.5 511.50,414.5 527.50,421.5 542.50,423.5 558.50,431.5 574.50,422.5 590.50,415.5 606.50,429.5 622.50,416.5 638.50,413.5 654.50,413.5 670.50,420.5 686.50,442.5 702.50,442.5 718.50,424.5" fill="none" stroke="#000" stroke-width="0.8"/>
<polyline points="96.50,411.5 112.50,438.5 128.50,438.5 143.50,427.5 159.50,422.5 175.50,422.5 191.50,435.5 207.50,435.5 223.50,425.5 239.50,437.5 255.50,441.5 271.50,438.5 287.50,432.5 303.50,439.5 319.50,449.5 335.50,449.5 351.50,444.5 367.50,427.5 383.50,437.5 399.50,448.5 415.50,442.5 431.50,441.5 447.50,438.5 463.50,466.5 479.50,432.5 495.50,430.5 511.50,431.5 527.50,438.5 542.50,442.5 558.50,449.5 574.50,442.5 590.50,437.5 606.50,449.5 622.50,437.5 638.50,434.5 654.50,434.5 670.50,442.5 686.50,466.5 702.50,466.5 718.50,446.5" fill="none" stroke="#ff0a3a" stroke-width="0.8"/>
<rect x="79.00" y="348.00" width="656.00" height="2.00" fill="#000"/>
<rect x="79.00" y="348.00" width="2.00" height="221.00" fill="#000"/>
<rect x="733.00" y="348.00" width="2.00" height="221.00" fill="#000"/>
<rect x="79.00" y="567.00" width="656.00" height="2.00" fill="#000"/>
<rect x="76.00" y="349.00" width="3.00" height="1.00" fill="#000"/>
<rect x="76.00" y="381.00" width="3.00" height="1.00" fill="#000"/>
<rect x="76.00" y="412.00" width="3.00" height="1.00" fill="#000"/>
<rect x="76.00" y="443.00" width="3.00" height="1.00" fill="#000"/>
<rect x="76.00" y="474.00" width="3.00" height="1.00" fill="#000"/>
<rect x="76.00" y="505.00" width="3.00" height="1.00" fill="#000"/>
<rect x="76.00" y="536.00" width="3.00" height="1.00" fill="#000"/>
<rect x="76.00" y="568.00" width="3.00" height="1.00" fill="#000"/>
<line x1="86" y1="349.5" x2="733" y2="349.5" stroke="#9a9a9a" stroke-width="1" stroke-dasharray="2 4.5"/>
<line x1="86" y1="568.5" x2="733" y2="568.5" stroke="#9a9a9a" stroke-width="1" stroke-dasharray="2 4.5"/>
<line x1="734.5" y1="352" x2="734.5" y2="567" stroke="#9a9a9a" stroke-width="1" stroke-dasharray="2 4.5"/>
<rect x="96.00" y="569.00" width="1.00" height="3.00" fill="#000"/>
<rect x="175.00" y="569.00" width="1.00" height="3.00" fill="#000"/>
<rect x="255.00" y="569.00" width="1.00" height="3.00" fill="#000"/>
<rect x="335.00" y="569.00" width="1.00" height="3.00" fill="#000"/>
<rect x="415.00" y="569.00" width="1.00" height="3.00" fill="#000"/>
<rect x="495.00" y="569.00" width="1.00" height="3.00" fill="#000"/>
<rect x="574.00" y="569.00" width="1.00" height="3.00" fill="#000"/>
<rect x="654.00" y="569.00" width="1.00" height="3.00" fill="#000"/>
<rect x="734.00" y="569.00" width="1.00" height="3.00" fill="#000"/>
</g>
<g font-family="'Liberation Sans', 'DejaVu Sans', sans-serif" fill="#000">
<text transform="translate(80.40,343.90) scale(0.8,1)" x="0" y="0" font-size="14" text-anchor="start" textLength="140.2" lengthAdjust="spacing">Prec.: log(mm/d)</text>
<text x="74.00" y="354.00" font-size="12.2" text-anchor="end">2</text>
<text x="74.00" y="386.00" font-size="12.2" text-anchor="end">1</text>
<text x="74.00" y="417.00" font-size="12.2" text-anchor="end">0</text>
<text x="74.00" y="448.00" font-size="12.2" text-anchor="end">&#8722;1</text>
<text x="74.00" y="479.00" font-size="12.2" text-anchor="end">&#8722;2</text>
<text x="74.00" y="510.00" font-size="12.2" text-anchor="end">&#8722;3</text>
<text x="74.00" y="541.00" font-size="12.2" text-anchor="end">&#8722;4</text>
<text x="74.00" y="573.00" font-size="12.2" text-anchor="end">&#8722;5</text>
<text x="96.80" y="582.00" font-size="12.2" text-anchor="middle" textLength="31.5" lengthAdjust="spacingAndGlyphs">11NOV</text>
<text x="175.80" y="582.00" font-size="12.2" text-anchor="middle" textLength="31.5" lengthAdjust="spacingAndGlyphs">16NOV</text>
<text x="255.80" y="582.00" font-size="12.2" text-anchor="middle" textLength="31.5" lengthAdjust="spacingAndGlyphs">21NOV</text>
<text x="335.80" y="582.00" font-size="12.2" text-anchor="middle" textLength="31.5" lengthAdjust="spacingAndGlyphs">26NOV</text>
<text x="415.80" y="582.00" font-size="12.2" text-anchor="middle" textLength="25.2" lengthAdjust="spacingAndGlyphs">1DEC</text>
<text x="495.80" y="582.00" font-size="12.2" text-anchor="middle" textLength="25.2" lengthAdjust="spacingAndGlyphs">6DEC</text>
<text x="574.80" y="582.00" font-size="12.2" text-anchor="middle" textLength="31.5" lengthAdjust="spacingAndGlyphs">11DEC</text>
<text x="654.80" y="582.00" font-size="12.2" text-anchor="middle" textLength="31.5" lengthAdjust="spacingAndGlyphs">16DEC</text>
<text x="734.80" y="582.00" font-size="12.2" text-anchor="middle" textLength="31.5" lengthAdjust="spacingAndGlyphs">21DEC</text>
<text x="96.30" y="593.00" font-size="11.8" text-anchor="middle" textLength="25.0" lengthAdjust="spacingAndGlyphs">2008</text>
<text transform="translate(381.40,602.00) scale(0.8,1)" x="0" y="0" font-size="14" text-anchor="start" textLength="33.8" lengthAdjust="spacing">http:</text>
<text x="410.60" y="603.00" font-size="15.5" text-anchor="start" textLength="13.4" lengthAdjust="spacing">//</text>
<text transform="translate(428.60,602.00) scale(0.8,1)" x="0" y="0" font-size="14" text-anchor="start" textLength="151.2" lengthAdjust="spacing">ncc.cma.gov.cn(ch)</text>
<text transform="translate(565.60,602.00) scale(0.8,1)" x="0" y="0" font-size="14" text-anchor="start" textLength="33.8" lengthAdjust="spacing">http:</text>
<text x="594.80" y="603.00" font-size="15.5" text-anchor="start" textLength="13.4" lengthAdjust="spacing">//</text>
<text transform="translate(611.60,602.00) scale(0.8,1)" x="0" y="0" font-size="14" text-anchor="start" textLength="151.2" lengthAdjust="spacing">bcc.cma.gov.cn(en)</text>
<text x="3.50" y="615.60" font-size="10.8" text-anchor="start" textLength="84.0" lengthAdjust="spacingAndGlyphs">GrADS: COLA/IGES</text>
</g>
<rect x="640" y="563" width="91.5" height="48" fill="#ffffff"/>
<g>
<circle cx="661.4" cy="585.4" r="19.0" fill="#fff" stroke="#cfcfcf" stroke-width="0.9"/>
<circle cx="661.4" cy="585.4" r="14.8" fill="none" stroke="#e6e6e6" stroke-width="0.6"/>
<path id="bccring" d="M645.2,590 A16.8,16.8 0 0 0 677.6,590" fill="none"/>
<text font-family="'Liberation Serif', serif" font-size="3.2" fill="#9a9a9a" letter-spacing="0.4"><textPath href="#bccring" startOffset="3">BEIJING CLIMATE CENTER</textPath></text>
<text x="661.4" y="570.6" font-family="'Noto Sans CJK SC', sans-serif" font-size="2.8" fill="#b4b4b4" text-anchor="middle" letter-spacing="1.8">&#22269;&#23478;&#27668;&#20505;&#20013;&#24515;</text>
<path d="M662.8,583.2 C659,582.5 656.5,581 656.8,578 C657,575 659.5,573.4 662.2,573.5 C664.5,573.6 666.3,574.7 667,576.8 C669.5,575.8 673,577 674.2,579.8 C675,582 673.8,584 671.6,585" fill="none" stroke="#ff1a1a" stroke-width="2.6" stroke-linecap="round"/>
<path d="M653.5,578 C650.8,579.2 650,582.5 652.5,584.3 C654.5,585.6 656.8,585.4 657.8,585 C659,587.8 662,589.2 665,588.5 C668,587.6 669.4,584.5 668.6,582.2 C667.8,580.2 665.5,579 662.8,579.2" fill="none" stroke="#1030ff" stroke-width="2.6" stroke-linecap="round"/>
<text x="662.4" y="597.8" font-family="'Liberation Serif', serif" font-weight="bold" font-size="8.8" fill="#1c2840" text-anchor="middle" textLength="19.5" lengthAdjust="spacingAndGlyphs">BCC</text>
</g>
<g fill="none" stroke="#2a3cff">
<ellipse cx="695.19" cy="572.90" rx="1.9" ry="0.85" transform="rotate(105.8 695.19 572.90)" fill="#2a3cff" stroke="none"/>
<ellipse cx="693.81" cy="570.70" rx="1.9" ry="0.85" transform="rotate(189.8 693.81 570.70)" fill="#2a3cff" stroke="none"/>
<ellipse cx="691.86" cy="574.97" rx="1.9" ry="0.85" transform="rotate(96.4 691.86 574.97)" fill="#2a3cff" stroke="none"/>
<ellipse cx="690.14" cy="573.03" rx="1.9" ry="0.85" transform="rotate(180.4 690.14 573.03)" fill="#2a3cff" stroke="none"/>
<ellipse cx="689.40" cy="577.99" rx="1.9" ry="0.85" transform="rotate(80.2 689.40 577.99)" fill="#2a3cff" stroke="none"/>
<ellipse cx="687.20" cy="576.61" rx="1.9" ry="0.85" transform="rotate(164.2 687.20 576.61)" fill="#2a3cff" stroke="none"/>
<ellipse cx="687.85" cy="581.37" rx="1.9" ry="0.85" transform="rotate(64.6 687.85 581.37)" fill="#2a3cff" stroke="none"/>
<ellipse cx="685.35" cy="580.63" rx="1.9" ry="0.85" transform="rotate(148.6 685.35 580.63)" fill="#2a3cff" stroke="none"/>
<ellipse cx="687.30" cy="585.03" rx="1.9" ry="0.85" transform="rotate(49.4 687.30 585.03)" fill="#2a3cff" stroke="none"/>
<ellipse cx="684.70" cy="584.97" rx="1.9" ry="0.85" transform="rotate(133.4 684.70 584.97)" fill="#2a3cff" stroke="none"/>
<ellipse cx="687.66" cy="588.67" rx="1.9" ry="0.85" transform="rotate(33.3 687.66 588.67)" fill="#2a3cff" stroke="none"/>
<ellipse cx="685.14" cy="589.33" rx="1.9" ry="0.85" transform="rotate(117.3 685.14 589.33)" fill="#2a3cff" stroke="none"/>
<ellipse cx="689.09" cy="591.89" rx="1.9" ry="0.85" transform="rotate(15.1 689.09 591.89)" fill="#2a3cff" stroke="none"/>
<ellipse cx="686.91" cy="593.31" rx="1.9" ry="0.85" transform="rotate(99.1 686.91 593.31)" fill="#2a3cff" stroke="none"/>
<ellipse cx="691.66" cy="594.82" rx="1.9" ry="0.85" transform="rotate(-0.8 691.66 594.82)" fill="#2a3cff" stroke="none"/>
<ellipse cx="689.94" cy="596.78" rx="1.9" ry="0.85" transform="rotate(83.2 689.94 596.78)" fill="#2a3cff" stroke="none"/>
<ellipse cx="695.07" cy="597.13" rx="1.9" ry="0.85" transform="rotate(-16.0 695.07 597.13)" fill="#2a3cff" stroke="none"/>
<ellipse cx="693.93" cy="599.47" rx="1.9" ry="0.85" transform="rotate(68.0 693.93 599.47)" fill="#2a3cff" stroke="none"/>
<ellipse cx="699.41" cy="598.57" rx="1.9" ry="0.85" transform="rotate(-23.6 699.41 598.57)" fill="#2a3cff" stroke="none"/>
<ellipse cx="698.59" cy="601.03" rx="1.9" ry="0.85" transform="rotate(60.4 698.59 601.03)" fill="#2a3cff" stroke="none"/>
<polyline points="694.5,571.8 691.0,574.0 688.3,577.3 686.6,581.0 686.0,585.0 686.4,589.0 688.0,592.6 690.8,595.8 694.5,598.3 699.0,599.8" stroke-width="1.1"/>
<ellipse cx="722.19" cy="570.70" rx="1.9" ry="0.85" transform="rotate(-9.8 722.19 570.70)" fill="#2a3cff" stroke="none"/>
<ellipse cx="720.81" cy="572.90" rx="1.9" ry="0.85" transform="rotate(74.2 720.81 572.90)" fill="#2a3cff" stroke="none"/>
<ellipse cx="725.86" cy="573.03" rx="1.9" ry="0.85" transform="rotate(-0.4 725.86 573.03)" fill="#2a3cff" stroke="none"/>
<ellipse cx="724.14" cy="574.97" rx="1.9" ry="0.85" transform="rotate(83.6 724.14 574.97)" fill="#2a3cff" stroke="none"/>
<ellipse cx="728.80" cy="576.61" rx="1.9" ry="0.85" transform="rotate(15.8 728.80 576.61)" fill="#2a3cff" stroke="none"/>
<ellipse cx="726.60" cy="577.99" rx="1.9" ry="0.85" transform="rotate(99.8 726.60 577.99)" fill="#2a3cff" stroke="none"/>
<ellipse cx="730.65" cy="580.63" rx="1.9" ry="0.85" transform="rotate(31.4 730.65 580.63)" fill="#2a3cff" stroke="none"/>
<ellipse cx="728.15" cy="581.37" rx="1.9" ry="0.85" transform="rotate(115.4 728.15 581.37)" fill="#2a3cff" stroke="none"/>
<ellipse cx="731.30" cy="584.97" rx="1.9" ry="0.85" transform="rotate(46.6 731.30 584.97)" fill="#2a3cff" stroke="none"/>
<ellipse cx="728.70" cy="585.03" rx="1.9" ry="0.85" transform="rotate(130.6 728.70 585.03)" fill="#2a3cff" stroke="none"/>
<ellipse cx="730.86" cy="589.33" rx="1.9" ry="0.85" transform="rotate(62.7 730.86 589.33)" fill="#2a3cff" stroke="none"/>
<ellipse cx="728.34" cy="588.67" rx="1.9" ry="0.85" transform="rotate(146.7 728.34 588.67)" fill="#2a3cff" stroke="none"/>
<ellipse cx="729.09" cy="593.31" rx="1.9" ry="0.85" transform="rotate(80.9 729.09 593.31)" fill="#2a3cff" stroke="none"/>
<ellipse cx="726.91" cy="591.89" rx="1.9" ry="0.85" transform="rotate(164.9 726.91 591.89)" fill="#2a3cff" stroke="none"/>
<ellipse cx="726.06" cy="596.78" rx="1.9" ry="0.85" transform="rotate(96.8 726.06 596.78)" fill="#2a3cff" stroke="none"/>
<ellipse cx="724.34" cy="594.82" rx="1.9" ry="0.85" transform="rotate(180.8 724.34 594.82)" fill="#2a3cff" stroke="none"/>
<ellipse cx="722.07" cy="599.47" rx="1.9" ry="0.85" transform="rotate(112.0 722.07 599.47)" fill="#2a3cff" stroke="none"/>
<ellipse cx="720.93" cy="597.13" rx="1.9" ry="0.85" transform="rotate(196.0 720.93 597.13)" fill="#2a3cff" stroke="none"/>
<ellipse cx="717.41" cy="601.03" rx="1.9" ry="0.85" transform="rotate(119.6 717.41 601.03)" fill="#2a3cff" stroke="none"/>
<ellipse cx="716.59" cy="598.57" rx="1.9" ry="0.85" transform="rotate(203.6 716.59 598.57)" fill="#2a3cff" stroke="none"/>
<polyline points="721.5,571.8 725.0,574.0 727.7,577.3 729.4,581.0 730.0,585.0 729.6,589.0 728.0,592.6 725.2,595.8 721.5,598.3 717.0,599.8" stroke-width="1.1"/>
<ellipse cx="708" cy="586" rx="18" ry="11.2" stroke-width="1.6"/>
<ellipse cx="708" cy="586" rx="15.2" ry="8.8" stroke-width="0.9"/>
<line x1="691" y1="585.2" x2="725" y2="585.2" stroke-width="0.8"/>
<ellipse cx="704" cy="586" rx="6.5" ry="10.5" stroke-width="0.8"/>
<path d="M694,581 C696,578.5 699,579.5 701,580 C703,580.5 704,583 703.5,586 C703,589 700.5,590.5 699,589 C697.5,587 695,586 694,584 Z" stroke-width="1.1"/>
<line x1="701.5" y1="598.5" x2="714.5" y2="598.5" stroke-width="1.4"/>
<line x1="699" y1="595.5" x2="717" y2="595.5" stroke-width="0.9"/>
</g>
<text x="715.6" y="591.2" font-family="'Liberation Sans', 'DejaVu Sans', sans-serif" font-style="italic" font-weight="bold" font-size="12.5" fill="#2a3cff" stroke="#2a3cff" stroke-width="0.7" text-anchor="middle" textLength="18.8" lengthAdjust="spacingAndGlyphs">NCC</text>
<text x="702" y="573.4" font-family="'Noto Sans CJK SC', sans-serif" font-size="4.6" fill="#2a3cff" text-anchor="middle">&#20013;</text>
<text x="714.8" y="573.4" font-family="'Noto Sans CJK SC', sans-serif" font-size="4.6" fill="#2a3cff" text-anchor="middle">&#22269;</text>
</svg>
</body></html>
